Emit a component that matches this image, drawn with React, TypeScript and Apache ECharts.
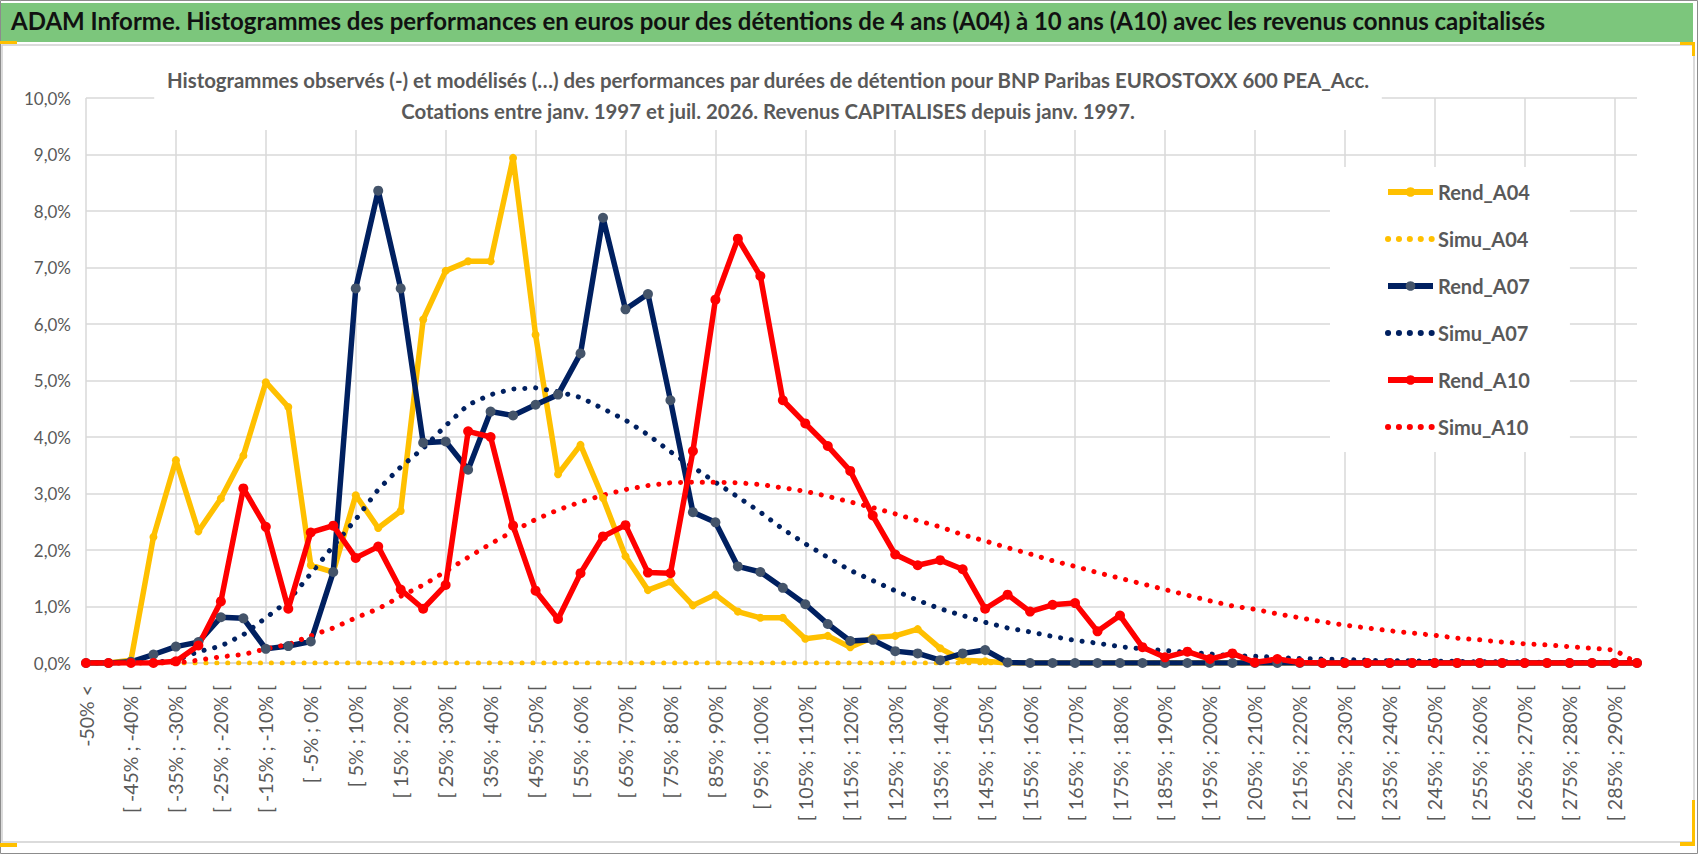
import { useEffect, useRef } from 'react';
import * as echarts from 'echarts';

const FONT = 'Lato, "Noto Sans", sans-serif';

const mainTitle =
  'ADAM Informe. Histogrammes des performances en euros pour des détentions de 4 ans (A04) à 10 ans (A10) avec les revenus connus capitalisés';
const subTitle =
  'Histogrammes observés (-) et modélisés (…) des performances par durées de détention pour BNP Paribas EUROSTOXX 600 PEA_Acc.\nCotations entre janv. 1997 et juil. 2026. Revenus CAPITALISES depuis janv. 1997.';

const categories = [
  '-50% <', '[ -50% ; -45% [', '[ -45% ; -40% [', '[ -40% ; -35% [', '[ -35% ; -30% [',
  '[ -30% ; -25% [', '[ -25% ; -20% [', '[ -20% ; -15% [', '[ -15% ; -10% [', '[ -10% ; -5% [',
  '[ -5% ; 0% [', '[ 0% ; 5% [', '[ 5% ; 10% [', '[ 10% ; 15% [', '[ 15% ; 20% [',
  '[ 20% ; 25% [', '[ 25% ; 30% [', '[ 30% ; 35% [', '[ 35% ; 40% [', '[ 40% ; 45% [',
  '[ 45% ; 50% [', '[ 50% ; 55% [', '[ 55% ; 60% [', '[ 60% ; 65% [', '[ 65% ; 70% [',
  '[ 70% ; 75% [', '[ 75% ; 80% [', '[ 80% ; 85% [', '[ 85% ; 90% [', '[ 90% ; 95% [',
  '[ 95% ; 100% [', '[ 100% ; 105% [', '[ 105% ; 110% [', '[ 110% ; 115% [', '[ 115% ; 120% [',
  '[ 120% ; 125% [', '[ 125% ; 130% [', '[ 130% ; 135% [', '[ 135% ; 140% [', '[ 140% ; 145% [',
  '[ 145% ; 150% [', '[ 150% ; 155% [', '[ 155% ; 160% [', '[ 160% ; 165% [', '[ 165% ; 170% [',
  '[ 170% ; 175% [', '[ 175% ; 180% [', '[ 180% ; 185% [', '[ 185% ; 190% [', '[ 190% ; 195% [',
  '[ 195% ; 200% [', '[ 200% ; 205% [', '[ 205% ; 210% [', '[ 210% ; 215% [', '[ 215% ; 220% [',
  '[ 220% ; 225% [', '[ 225% ; 230% [', '[ 230% ; 235% [', '[ 235% ; 240% [', '[ 240% ; 245% [',
  '[ 245% ; 250% [', '[ 250% ; 255% [', '[ 255% ; 260% [', '[ 260% ; 265% [', '[ 265% ; 270% [',
  '[ 270% ; 275% [', '[ 275% ; 280% [', '[ 280% ; 285% [', '[ 285% ; 290% [', '[ 290% ; 295% [',
];

// values in %
const rendA04 = [
  0, 0, 0.05, 2.23, 3.59, 2.33, 2.91, 3.67, 4.97, 4.53,
  1.73, 1.61, 2.97, 2.39, 2.69, 6.08, 6.94, 7.11, 7.11, 8.94,
  5.81, 3.34, 3.86, 2.92, 1.89, 1.29, 1.44, 1.02, 1.21, 0.91,
  0.8, 0.8, 0.43, 0.48, 0.28, 0.45, 0.48, 0.6, 0.26, 0.05,
  0.03, 0, 0, 0, 0, 0, 0, 0, 0, 0,
  0, 0, 0, 0, 0, 0, 0, 0, 0, 0,
  0, 0, 0, 0, 0, 0, 0, 0, 0, 0,
];
const simuA04 = [
  0, 0, 0, 0, 0, 0, 0, 0, 0, 0,
  0, 0, 0, 0, 0, 0, 0, 0, 0, 0,
  0, 0, 0, 0, 0, 0, 0, 0, 0, 0,
  0, 0, 0, 0, 0, 0, 0, 0, 0, 0,
  0, 0, 0, 0, 0, 0, 0, 0, 0, 0,
  0, 0, 0, 0, 0, 0, 0, 0, 0, 0,
  0, 0, 0, 0, 0, 0, 0, 0, 0, 0,
];
const rendA07 = [
  0, 0, 0.02, 0.15, 0.29, 0.37, 0.81, 0.79, 0.25, 0.3,
  0.38, 1.61, 6.63, 8.36, 6.63, 3.9, 3.92, 3.42, 4.45, 4.38,
  4.57, 4.75, 5.48, 7.88, 6.26, 6.53, 4.65, 2.67, 2.49, 1.71,
  1.61, 1.33, 1.04, 0.69, 0.39, 0.41, 0.21, 0.17, 0.05, 0.17,
  0.23, 0.01, 0, 0, 0, 0, 0, 0, 0, 0,
  0, 0, 0, 0, 0, 0, 0, 0, 0, 0,
  0, 0, 0, 0, 0, 0, 0, 0, 0, 0,
];
const simuA07 = [
  0, 0, 0, 0.01, 0.05, 0.2, 0.3, 0.5, 0.8, 1.1,
  1.58, 2.07, 2.54, 3.07, 3.47, 3.8, 4.2, 4.57, 4.75, 4.85,
  4.87, 4.8, 4.7, 4.5, 4.3, 4.04, 3.74, 3.47, 3.2, 2.94,
  2.67, 2.37, 2.11, 1.87, 1.64, 1.46, 1.28, 1.11, 0.96, 0.84,
  0.72, 0.62, 0.55, 0.47, 0.4, 0.35, 0.29, 0.25, 0.22, 0.19,
  0.16, 0.13, 0.12, 0.1, 0.08, 0.07, 0.06, 0.05, 0.04, 0.04,
  0.03, 0.03, 0.02, 0.02, 0.02, 0.01, 0.01, 0.01, 0.01, 0,
];
const rendA10 = [
  0, 0, 0, 0, 0.03, 0.31, 1.09, 3.09, 2.41, 0.96,
  2.31, 2.43, 1.86, 2.06, 1.3, 0.96, 1.38, 4.1, 4.0, 2.43,
  1.28, 0.78, 1.59, 2.24, 2.44, 1.6, 1.59, 3.75, 6.43, 7.51,
  6.85, 4.65, 4.24, 3.84, 3.4, 2.61, 1.92, 1.73, 1.82, 1.66,
  0.96, 1.21, 0.91, 1.03, 1.06, 0.56, 0.84, 0.28, 0.1, 0.2,
  0.07, 0.17, 0.01, 0.07, 0.01, 0, 0, 0, 0, 0,
  0, 0, 0, 0, 0, 0, 0, 0, 0, 0,
];
const simuA10 = [
  0, 0, 0, 0, 0, 0.05, 0.11, 0.15, 0.25, 0.33,
  0.48, 0.62, 0.8, 0.96, 1.18, 1.38, 1.62, 1.87, 2.11, 2.33,
  2.54, 2.71, 2.85, 2.97, 3.07, 3.14, 3.19, 3.2, 3.2, 3.19,
  3.16, 3.1, 3.04, 2.95, 2.85, 2.75, 2.64, 2.52, 2.41, 2.27,
  2.16, 2.04, 1.93, 1.81, 1.71, 1.6, 1.5, 1.4, 1.3, 1.2,
  1.1, 1.01, 0.95, 0.87, 0.8, 0.73, 0.67, 0.62, 0.57, 0.53,
  0.49, 0.44, 0.41, 0.37, 0.34, 0.32, 0.29, 0.26, 0.23, 0,
];

const YELLOW = '#FFC000';
const NAVY = '#002060';
const RED = '#FF0000';
const GRID = '#d9d9d9';
const TEXT = '#595959';

const dots = (color: string) => ({
  color,
  width: 5,
  type: [0.1, 10.8],
  cap: 'round' as const,
});

export default function App() {
  const ref = useRef<HTMLDivElement>(null);

  useEffect(() => {
    if (!ref.current) return;
    const chart = echarts.init(ref.current, undefined, { renderer: 'svg' });

    const solid = (name: string, data: number[], color: string, marker: string, size: number) => ({
      name,
      type: 'line',
      data,
      symbol: 'circle',
      symbolSize: size,
      showSymbol: true,
      lineStyle: { color, width: 5.5 },
      itemStyle: { color: marker },
    });
    const dotted = (name: string, data: number[], color: string) => ({
      name,
      type: 'line',
      data,
      symbol: 'none',
      showSymbol: false,
      lineStyle: dots(color),
      itemStyle: { color },
    });
    const hidden = { opacity: 0 };

    chart.setOption({
      animation: false,
      backgroundColor: '#fff',
      textStyle: { fontFamily: FONT },
      graphic: [
        { type: 'rect', shape: { x: 0.5, y: 0.5, width: 1697, height: 853 }, style: { fill: 'none', stroke: '#8c8c8c', lineWidth: 1 }, z: -10 },
        { type: 'rect', shape: { x: 1, y: 3, width: 1692, height: 39 }, style: { fill: '#7cc67c' }, z: -9 },
        { type: 'rect', shape: { x: 2, y: 45, width: 1692, height: 797 }, style: { fill: '#fff', stroke: '#d0d0d0', lineWidth: 1.5 }, z: -9 },
        { type: 'rect', shape: { x: 0, y: 41, width: 17, height: 3 }, style: { fill: YELLOW }, z: 10 },
        { type: 'rect', shape: { x: 1680, y: 42, width: 15, height: 3 }, style: { fill: YELLOW }, z: 10 },
        { type: 'rect', shape: { x: 1692, y: 42, width: 3, height: 14 }, style: { fill: YELLOW }, z: 10 },
        { type: 'rect', shape: { x: 1692, y: 800, width: 3, height: 45 }, style: { fill: YELLOW }, z: 10 },
        { type: 'rect', shape: { x: 1680, y: 842, width: 15, height: 4 }, style: { fill: YELLOW }, z: 10 },
        { type: 'rect', shape: { x: 0, y: 843, width: 17, height: 4 }, style: { fill: YELLOW }, z: 10 },
      ],
      title: [
        {
          text: mainTitle,
          left: 11,
          top: 8,
          padding: 0,
          textStyle: { fontFamily: FONT, fontSize: 24, fontWeight: 'bold', color: '#111' },
        },
        {
          text: subTitle,
          left: 756,
          textAlign: 'center',
          top: 60,
          padding: [4, 12, 4, 12],
          backgroundColor: '#fff',
          textStyle: {
            fontFamily: FONT,
            fontSize: 20.4,
            lineHeight: 31,
            fontWeight: 'bold',
            color: TEXT,
            align: 'center',
          },
          z: 5,
        },
      ],
      legend: {
        orient: 'vertical',
        left: 1330,
        top: 167,
        padding: [13, 40, 13, 55],
        backgroundColor: '#fff',
        itemWidth: 45,
        itemHeight: 12,
        itemGap: 23,
        lineStyle: { width: 6 },
        textStyle: { fontFamily: FONT, fontSize: 20, fontWeight: 'bold', color: TEXT, lineHeight: 24 },
        data: [
          { name: 'Rend_A04' },
          { name: 'Simu_A04', itemStyle: hidden },
          { name: 'Rend_A07' },
          { name: 'Simu_A07', itemStyle: hidden },
          { name: 'Rend_A10' },
          { name: 'Simu_A10', itemStyle: hidden },
        ],
        z: 5,
      },
      grid: { left: 86, right: 61, top: 98, bottom: 191, containLabel: false },
      xAxis: {
        type: 'category',
        data: categories,
        boundaryGap: false,
        axisLine: { lineStyle: { color: GRID, width: 1.5 } },
        axisTick: { show: false },
        axisLabel: {
          interval: 1,
          rotate: 90,
          margin: 22,
          fontFamily: FONT,
          fontSize: 19.5,
          color: TEXT,
        },
        splitLine: {
          show: true,
          interval: (i: number) => i % 4 === 0,
          lineStyle: { color: GRID, width: 1.5 },
        },
      },
      yAxis: {
        type: 'value',
        min: 0,
        max: 10,
        interval: 1,
        axisLine: { show: false },
        axisTick: { show: false },
        axisLabel: {
          margin: 15,
          fontFamily: FONT,
          fontSize: 17,
          color: TEXT,
          formatter: (v: number) => v.toFixed(1).replace('.', ',') + '%',
        },
        splitLine: { lineStyle: { color: GRID, width: 1.5 } },
      },
      series: [
        solid('Rend_A04', rendA04, YELLOW, YELLOW, 8),
        dotted('Simu_A04', simuA04, YELLOW),
        solid('Rend_A07', rendA07, NAVY, '#44546A', 10),
        dotted('Simu_A07', simuA07, NAVY),
        solid('Rend_A10', rendA10, RED, RED, 10),
        dotted('Simu_A10', simuA10, RED),
      ],
    });

    return () => chart.dispose();
  }, []);

  return (
    <div
      ref={ref}
      style={{ position: 'absolute', left: 0, top: 0, width: 1698, height: 854 }}
    />
  );
}
